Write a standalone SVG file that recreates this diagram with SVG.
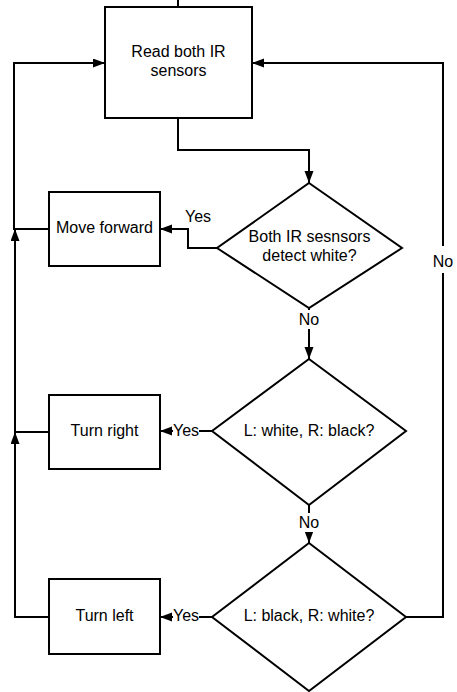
<svg xmlns="http://www.w3.org/2000/svg" width="457" height="692" viewBox="0 0 457 692">
  <style>
    .shape { fill: #ffffff; stroke: #000000; stroke-width: 2; }
    .edge { fill: none; stroke: #000000; stroke-width: 2; }
    .txt { font-family: "Liberation Sans", Arial, sans-serif; font-size: 16px; fill: #000000; text-anchor: middle; }
    .lbl-bg { fill: #ffffff; }
  </style>
  <defs>
    <marker id="arrow" markerUnits="userSpaceOnUse" markerWidth="12" markerHeight="10" refX="12" refY="4.5" orient="auto">
      <path d="M0,0 L12,4.5 L0,9 z" fill="#000000"/>
    </marker>
  </defs>
  <rect width="457" height="692" fill="#ffffff"/>

  <g id="connectors">
    <!-- incoming stub above the first step -->
    <line class="edge" x1="178" y1="0" x2="178" y2="7"/>
    <!-- read sensors -> first decision -->
    <polyline class="edge" points="178,118 178,150 309,150 309,183" marker-end="url(#arrow)"/>
    <!-- both white: yes -> move forward -->
    <polyline class="edge" points="217,248 188,248 188,229 160,229" marker-end="url(#arrow)"/>
    <!-- both white: no -> second decision -->
    <polyline class="edge" points="309,308 309,359" marker-end="url(#arrow)"/>
    <!-- second decision: yes -> turn right -->
    <polyline class="edge" points="212,431 160,431" marker-end="url(#arrow)"/>
    <!-- second decision: no -> third decision -->
    <polyline class="edge" points="309,505 309,543" marker-end="url(#arrow)"/>
    <!-- third decision: yes -> turn left -->
    <polyline class="edge" points="212,617 160,617" marker-end="url(#arrow)"/>
    <!-- third decision: no -> back to reading -->
    <polyline class="edge" points="406,617 443,617 443,63 252,63" marker-end="url(#arrow)"/>
    <!-- move forward -> back to reading -->
    <polyline class="edge" points="49,229 14,229 14,63 105,63" marker-end="url(#arrow)"/>
    <!-- turn right -> joins return path -->
    <polyline class="edge" points="49,432 15,432 15,229" marker-end="url(#arrow)"/>
    <!-- turn left -> joins return path -->
    <polyline class="edge" points="49,617 15,617 15,432" marker-end="url(#arrow)"/>

    <!-- connector labels -->
    <text class="txt" x="198" y="222">Yes</text>
    <rect class="lbl-bg" x="298" y="310" width="22" height="19"/>
    <text class="txt" x="309" y="325">No</text>
    <rect class="lbl-bg" x="173" y="422" width="26" height="18"/>
    <text class="txt" x="186" y="436">Yes</text>
    <rect class="lbl-bg" x="298" y="513" width="22" height="19"/>
    <text class="txt" x="309" y="528">No</text>
    <rect class="lbl-bg" x="173" y="607" width="26" height="18"/>
    <text class="txt" x="186" y="621">Yes</text>
    <rect class="lbl-bg" x="431" y="246" width="24" height="27"/>
    <text class="txt" x="443" y="267">No</text>
  </g>

  <g id="read-sensors">
    <rect class="shape" x="105" y="7" width="147" height="111"/>
    <text class="txt" x="178.5" y="57">Read both IR</text>
    <text class="txt" x="178.5" y="76">sensors</text>
  </g>

  <g id="both-white">
    <polygon class="shape" points="309,183 402,248 309,308 217,248"/>
    <text class="txt" x="309.5" y="242">Both IR sesnsors</text>
    <text class="txt" x="309.5" y="261">detect white?</text>
  </g>

  <g id="move-forward">
    <rect class="shape" x="49" y="192" width="111" height="74"/>
    <text class="txt" x="104.5" y="233">Move forward</text>
  </g>

  <g id="white-black">
    <polygon class="shape" points="309,359 406,431 309,505 212,431"/>
    <text class="txt" x="309" y="436">L: white, R: black?</text>
  </g>

  <g id="turn-right">
    <rect class="shape" x="49" y="395" width="111" height="74"/>
    <text class="txt" x="104.5" y="436">Turn right</text>
  </g>

  <g id="black-white">
    <polygon class="shape" points="309,543 406,617 309,691 212,617"/>
    <text class="txt" x="309" y="621">L: black, R: white?</text>
  </g>

  <g id="turn-left">
    <rect class="shape" x="49" y="579" width="111" height="75"/>
    <text class="txt" x="104.5" y="621">Turn left</text>
  </g>
</svg>
